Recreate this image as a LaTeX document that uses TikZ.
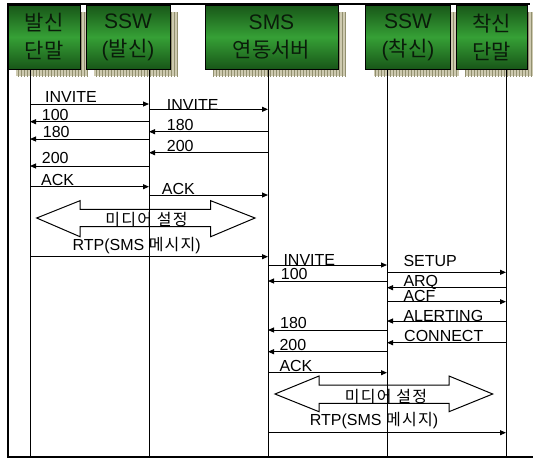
\documentclass[tikz,border=0pt]{standalone}
\usepackage{fontspec}
\setmainfont{Liberation Sans}
\newfontfamily\kr{Noto Sans CJK KR}
\newfontfamily\krw{Noto Sans CJK KR}[LetterSpace=8]
\usetikzlibrary{arrows.meta}

\definecolor{boxdark}{RGB}{24,86,24}
\definecolor{boxmid}{RGB}{54,160,54}
\definecolor{boxtext}{RGB}{10,28,10}
\definecolor{shadowbg}{RGB}{206,202,176}
\definecolor{shadowgrid}{RGB}{146,144,112}

\begin{document}
\begin{tikzpicture}[x=1pt,y=-1pt,
  frame/.style={line width=2pt},
  hdr/.style={draw=black, line width=0.9pt, top color=boxdark, bottom color=boxdark,
    middle color=boxmid, text=boxtext, font=\fontsize{21}{28}\selectfont,
    align=center, inner sep=0pt, minimum height=64pt},
  life/.style={line width=1pt},
  msg/.style={line width=1pt, -{Triangle[length=6pt,width=5pt]}},
  lbl/.style={font=\fontsize{16}{19}\selectfont, inner sep=0pt, anchor=base west},
  clbl/.style={font=\fontsize{16}{19}\selectfont, inner sep=0pt, anchor=base},
  blockarrow/.style={draw=black, line width=1pt, fill=white, line join=miter}
]
\useasboundingbox (0,0) rectangle (533,459);

% header box shadows: tan grid offset down-right
\def\hdrshadow#1#2#3#4{%
  \fill[shadowbg] (#1+8,#2+7) rectangle (#3+8,#4+7);
  \begin{scope}
    \clip (#1+8,#2+7) rectangle (#3+8,#4+7);
    \draw[shadowgrid, line width=0.5pt, step=3] (#1,#2) grid (#3+12,#4+12);
  \end{scope}}
\hdrshadow{8}{5}{80}{69}
\hdrshadow{86}{5}{170}{69}
\hdrshadow{205}{5}{338}{69}
\hdrshadow{365.5}{5}{450.5}{69}
\hdrshadow{456.5}{5}{527}{69}

% frame
\draw[frame] (7,4) -- (530,4);
\draw[frame] (7.5,4) -- (7.5,457);
\draw[frame] (7,457) -- (533,457);

% participants
\node[hdr, minimum width=72pt]   (b1) at (44,37)     {{\kr 발신}\\{\kr 단말}};
\node[hdr, minimum width=84pt]   (b2) at (128,37)    {SSW\\({\kr 발신})};
\node[hdr, minimum width=133pt]  (b3) at (271.5,37)  {SMS\\{\kr 연동서버}};
\node[hdr, minimum width=85pt]   (b4) at (408,37)    {SSW\\({\kr 착신})};
\node[hdr, minimum width=70.5pt] (b5) at (491.75,37) {{\kr 착신}\\{\kr 단말}};

% lifeline heads
\coordinate (l1) at (30,69);
\coordinate (l2) at (149,69);
\coordinate (l3) at (268,69);
\coordinate (l4) at (387,69);
\coordinate (l5) at (506,69);

% media setup block arrows
\draw[blockarrow] (36.7,218) -- (80,200.7) -- (80,209.3) -- (210.7,209.3) -- (210.7,200.7)
  -- (255,218) -- (210.7,236.7) -- (210.7,226.7) -- (80,226.7) -- (80,236.7) -- cycle;
\draw[blockarrow] (275,394) -- (319,376) -- (319,385) -- (449,385) -- (449,376)
  -- (492.7,394) -- (449,411.7) -- (449,403.3) -- (319,403.3) -- (319,411.7) -- cycle;
\node[clbl] (media1) at (146.5,225) {\krw 미디어 설정};
\node[clbl] (media2) at (386,402.5) {\krw 미디어 설정};

% lifelines
\foreach \l in {l1,l2,l3,l4,l5}
  \draw[life] (\l) -- (\l |- 0,457);

% originating side
\draw[msg] (l1 |- 0,104)   -- (l2 |- 0,104);   \node[lbl] (t1)  at (45,102.7)   {INVITE};
\draw[msg] (l2 |- 0,109.3) -- (l3 |- 0,109.3); \node[lbl] (t2)  at (166.7,110.5) {INVITE};
\draw[msg] (l2 |- 0,121.7) -- (l1 |- 0,121.7); \node[lbl] (t3)  at (41.7,120)    {100};
\draw[msg] (l3 |- 0,131.7) -- (l2 |- 0,131.7); \node[lbl] (t4)  at (166.7,130)   {180};
\draw[msg] (l2 |- 0,139)   -- (l1 |- 0,139);   \node[lbl] (t5)  at (42.7,137.3)  {180};
\draw[msg] (l3 |- 0,152.7) -- (l2 |- 0,152.7); \node[lbl] (t6)  at (166.7,151.3) {200};
\draw[msg] (l2 |- 0,166)   -- (l1 |- 0,166);   \node[lbl] (t7)  at (41.7,163.5)  {200};
\draw[msg] (l1 |- 0,186.7) -- (l2 |- 0,186.7); \node[lbl] (t8)  at (41,185.7)    {ACK};
\draw[msg] (l2 |- 0,195)   -- (l3 |- 0,195);   \node[lbl] (t9)  at (161.7,194.3) {ACK};
\node[clbl] (rtp1) at (136.7,250) {RTP(SMS {\krw 메시지})};
\draw[msg] (l1 |- 0,256.7) -- (l3 |- 0,256.7);

% terminating side
\draw[msg] (l3 |- 0,265)   -- (l4 |- 0,265);   \node[lbl] (u1)  at (283.3,265)   {INVITE};
\draw[msg] (l4 |- 0,272.3) -- (l5 |- 0,272.3); \node[lbl] (u2)  at (403.3,266.7) {SETUP};
\draw[msg] (l4 |- 0,281)   -- (l3 |- 0,281);   \node[lbl] (u3)  at (280.7,279.5) {100};
\draw[msg] (l5 |- 0,287.7) -- (l4 |- 0,287.7); \node[lbl] (u4)  at (403.3,286)   {ARQ};
\draw[msg] (l4 |- 0,301.7) -- (l5 |- 0,301.7); \node[lbl] (u5)  at (403.3,301)   {ACF};
\draw[msg] (l5 |- 0,321)   -- (l4 |- 0,321);   \node[lbl] (u6)  at (403.3,321.5) {ALERTING};
\draw[msg] (l4 |- 0,330)   -- (l3 |- 0,330);   \node[lbl] (u7)  at (280,328.3)   {180};
\draw[msg] (l5 |- 0,342.7) -- (l4 |- 0,342.7); \node[lbl] (u8)  at (404,341.7)   {CONNECT};
\draw[msg] (l4 |- 0,351.7) -- (l3 |- 0,351.7); \node[lbl] (u9)  at (279.3,350)   {200};
\draw[msg] (l3 |- 0,372.7) -- (l4 |- 0,372.7); \node[lbl] (u10) at (279.3,371.7) {ACK};
\node[clbl] (rtp2) at (374,425) {RTP(SMS {\krw 메시지})};
\draw[msg] (l3 |- 0,432.7) -- (l5 |- 0,432.7);
\end{tikzpicture}
\end{document}
